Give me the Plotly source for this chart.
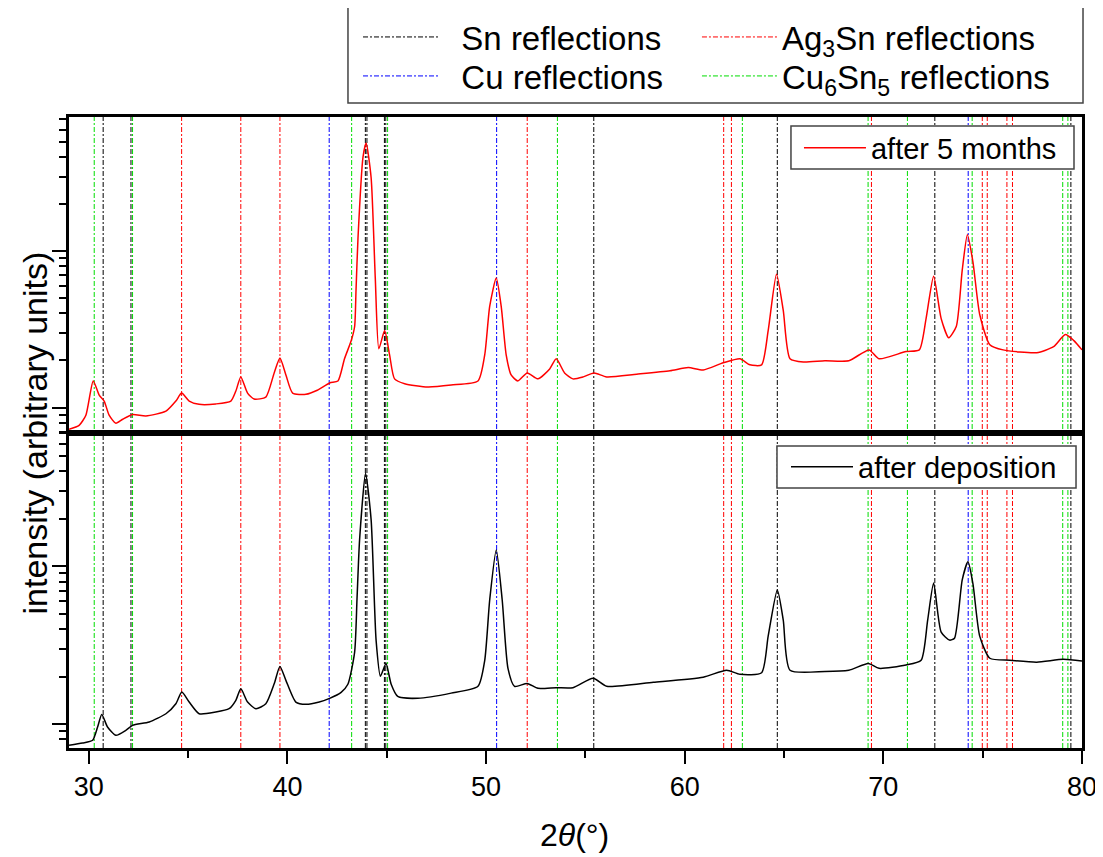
import plotly.graph_objects as go

# ---------------- data ----------------
two_theta_5m = [29.0, 29.51, 29.85, 30.22, 30.52, 30.77, 31.02, 31.36, 31.7, 32.2, 32.87, 33.88,
                34.38, 34.67, 35.05, 35.55, 36.39, 37.15, 37.4, 37.65, 37.99, 38.32, 38.91, 39.33,
                39.62, 39.92, 40.26, 40.93, 41.5, 42.12, 42.54, 42.87, 43.21, 43.38, 43.45, 43.55,
                43.8, 43.96, 44.21, 44.42, 44.6, 44.89, 45.14, 45.39, 45.9, 47.07, 48.24, 49.59,
                49.93, 50.18, 50.51, 50.76, 51.01, 51.26, 51.6, 52.07, 52.61, 53.2, 53.53, 53.95,
                54.37, 54.89, 55.43, 56.07, 57.58, 59.26, 60.18, 60.93, 61.94, 62.78, 63.28, 63.87,
                64.2, 64.62, 64.96, 65.3, 65.97, 67.06, 68.26, 69.28, 69.78, 71.14, 71.81, 72.15,
                72.53, 72.91, 73.29, 73.67, 73.97, 74.23, 74.51, 74.85, 75.36, 76.03, 77.72, 78.57,
                79.16, 79.59, 80.0]
intensity_5m = [725, 769, 893, 1479, 1200, 1099, 893, 793, 841, 903, 883, 947,
                1099, 1236, 1099, 1048, 1054, 1099, 1274, 1570, 1236, 1132, 1166, 1664,
                2073, 1615, 1236, 1215, 1290, 1436, 1479, 2051, 2680, 3298, 5620, 12160,
                39900, 49200, 29650, 6730, 2377, 3105, 2173, 1525, 1419, 1353, 1393, 1479,
                2173, 4436, 6730, 4436, 2173, 1615, 1479, 1664, 1525, 1766, 2051, 1664,
                1525, 1570, 1664, 1570, 1634, 1718, 1800, 1738, 1932, 2051, 1875, 1875,
                3105, 7130, 4180, 2051, 1954, 1991, 1991, 2337, 2051, 2280, 2337, 3707,
                6923, 3707, 2793, 3298, 7570, 12760, 8530, 3938, 2523, 2337, 2243, 2449,
                2931, 2680, 2337]

two_theta_dep = [29.0, 29.68, 30.19, 30.44, 30.65, 30.94, 31.36, 31.86, 32.2, 33.04, 33.88, 34.38,
                 34.68, 35.05, 35.55, 36.39, 37.06, 37.4, 37.65, 37.99, 38.41, 38.91, 39.33, 39.62,
                 39.92, 40.42, 40.93, 41.6, 42.12, 42.7, 43.04, 43.38, 43.5, 43.63, 43.93, 44.21,
                 44.46, 44.68, 44.96, 45.22, 45.55, 46.56, 48.24, 49.59, 49.93, 50.18, 50.51, 50.81,
                 51.1, 51.43, 52.07, 52.61, 53.53, 54.37, 55.39, 56.07, 58.42, 60.93, 62.11, 62.78,
                 63.87, 64.2, 64.66, 64.96, 65.3, 67.06, 68.26, 69.24, 69.78, 71.14, 71.9, 72.23,
                 72.53, 72.91, 73.33, 73.58, 73.97, 74.26, 74.51, 74.85, 75.36, 76.37, 77.72, 79.06,
                 80.0]
intensity_dep = [733, 758, 789, 957, 1150, 957, 848, 912, 981, 1030, 1162, 1344,
                 1595, 1378, 1162, 1191, 1250, 1413, 1671, 1378, 1250, 1344, 1798, 2316,
                 1892, 1378, 1333, 1380, 1455, 1588, 1786, 2858, 6200, 14720, 38800, 19770,
                 3404, 2010, 2421, 1786, 1496, 1455, 1570, 1734, 2535, 6110, 12700, 6110,
                 2254, 1734, 1807, 1683, 1700, 1700, 1950, 1734, 1841, 1982, 2192, 2066,
                 2114, 3606, 7080, 4562, 2192, 2153, 2192, 2421, 2254, 2366, 2535, 4562,
                 7820, 3820, 3404, 3500, 8200, 10670, 7730, 3606, 2612, 2535, 2466, 2571,
                 2506]

sn_refl = [30.72, 32.12, 43.92, 44.0, 44.88, 44.95, 55.42, 64.66, 72.59, 79.44]
cu_refl = [42.1, 50.53, 74.27]
ag3sn_refl = [34.67, 37.65, 39.62, 52.07, 61.96, 62.35, 69.4, 74.98, 75.23, 76.22, 76.5]
cu6sn5_refl = [30.27, 32.2, 43.23, 45.04, 53.59, 62.9, 69.23, 71.21, 74.47, 79.03, 79.29]

x_ticks = [30, 40, 50, 60, 70, 80]
x_minor = [35, 45, 55, 65, 75]
y_major = [1000, 10000]
y_minor = [700, 800, 900, 2000, 3000, 4000, 5000, 6000, 7000, 8000, 9000,
           20000, 30000, 40000, 50000, 60000, 70000]

# ---------------- figure ----------------
FONT = "Liberation Sans, Arial, sans-serif"
NB = "\u00a0\u00a0"
DASH = "5px,2px,2px,2px"
fig = go.Figure()

# (label, positions, colour, legend id, legend x, legend y, label prefix)
groups = [
    ("Sn reflections", sn_refl, "#000000", "legend", 0.2853, 1.1268, NB),
    ("Ag<sub>3</sub>Sn reflections", ag3sn_refl, "#ff0000", "legend4", 0.6199, 1.1268, ""),
    ("Cu reflections", cu_refl, "#0000ff", "legend5", 0.2853, 1.0650, NB),
    ("Cu<sub>6</sub>Sn<sub>5</sub> reflections", cu6sn5_refl, "#00dd00", "legend6", 0.6199, 1.0650, ""),
]

shapes = []
legend_layouts = {}
for name, pos, col, leg, lx, ly, pre in groups:
    fig.add_trace(go.Scatter(x=[None], y=[None], mode="lines", name=pre + name,
                             line=dict(color=col, width=1, dash=DASH),
                             legend=leg, xaxis="x2", yaxis="y",
                             showlegend=True, hoverinfo="skip"))
    legend_layouts[leg] = dict(x=lx, y=ly, xanchor="left", yanchor="middle", itemwidth=75,
                               font=dict(size=33, family=FONT), bgcolor="rgba(0,0,0,0)",
                               borderwidth=0)
    for p in pos:
        shapes.append(dict(type="line", xref="x", yref="paper", x0=p, x1=p, y0=0, y1=1,
                           line=dict(color=col, width=1, dash=DASH), layer="below"))

# legend frames
BOX = dict(color="#444444", width=1.5)
shapes.append(dict(type="rect", xref="paper", yref="paper", x0=0.2754, x1=1.0010,
                   y0=1.0222, y1=1.1775, line=BOX, fillcolor="white", layer="above"))
shapes.append(dict(type="rect", xref="paper", yref="paper", x0=0.7127, x1=0.9921,
                   y0=0.9176, y1=0.9857, line=BOX, fillcolor="white", layer="above"))
shapes.append(dict(type="rect", xref="paper", yref="paper", x0=0.6989, x1=0.9941,
                   y0=0.4120, y1=0.4786, line=BOX, fillcolor="white", layer="above"))

fig.add_trace(go.Scatter(x=two_theta_5m, y=intensity_5m, mode="lines", name="after 5 months",
                         line=dict(color="#ff0000", width=1.5, shape="spline", smoothing=0.6),
                         xaxis="x2", yaxis="y", legend="legend2"))
fig.add_trace(go.Scatter(x=two_theta_dep, y=intensity_dep, mode="lines", name="after deposition",
                         line=dict(color="#000000", width=1.5, shape="spline", smoothing=0.6),
                         xaxis="x", yaxis="y2", legend="legend3"))

yax_common = dict(type="log", showticklabels=False, ticks="outside", tickvals=y_major,
                  ticklen=14, tickwidth=2, tickcolor="black",
                  minor=dict(ticks="outside", tickvals=y_minor, ticklen=7, tickwidth=2,
                             tickcolor="black", showgrid=False),
                  showline=True, linewidth=2.5, linecolor="black", mirror=True,
                  showgrid=False, zeroline=False)

panel_leg = dict(xanchor="left", yanchor="middle", itemwidth=62,
                 font=dict(size=29, family=FONT), bgcolor="rgba(0,0,0,0)", borderwidth=0)

fig.update_layout(
    width=1095, height=849,
    margin=dict(l=61, r=21, t=109, b=109, autoexpand=False),
    paper_bgcolor="white", plot_bgcolor="white",
    font=dict(family=FONT, color="black"),
    shapes=shapes,
    xaxis=dict(domain=[0, 1], anchor="y2", range=[29.0, 80.0], tickvals=x_ticks,
               ticks="outside", ticklen=13, tickwidth=2, tickcolor="black",
               minor=dict(ticks="outside", tickvals=x_minor, ticklen=7, tickwidth=2,
                          tickcolor="black", showgrid=False),
               tickfont=dict(size=27, family=FONT),
               showline=True, linewidth=2.5, linecolor="black", mirror=True,
               showgrid=False, zeroline=False),
    xaxis2=dict(domain=[0, 1], anchor="y", matches="x", showticklabels=False, ticks="",
                showline=True, linewidth=2.5, linecolor="black", mirror=True,
                showgrid=False, zeroline=False),
    yaxis=dict(domain=[0.5, 1], anchor="x2", range=[2.840, 4.859], **yax_common),
    yaxis2=dict(domain=[0, 0.5], anchor="x", range=[2.848, 4.848], **yax_common),
    legend2=dict(x=0.7206, y=0.9509, **panel_leg),
    legend3=dict(x=0.7078, y=0.4453, **panel_leg),
    annotations=[
        dict(text="intensity (arbitrary units)", xref="paper", yref="paper",
             x=-0.0336, y=0.5, xanchor="center", yanchor="middle", textangle=-90,
             showarrow=False, font=dict(size=34, family=FONT)),
        dict(text="2<i>θ</i>(°)", xref="paper", yref="paper",
             x=0.4995, y=-0.138, xanchor="center", yanchor="middle",
             showarrow=False, font=dict(size=32, family=FONT)),
    ],
)
fig.update_layout(**legend_layouts)

fig.write_html("out.html")
